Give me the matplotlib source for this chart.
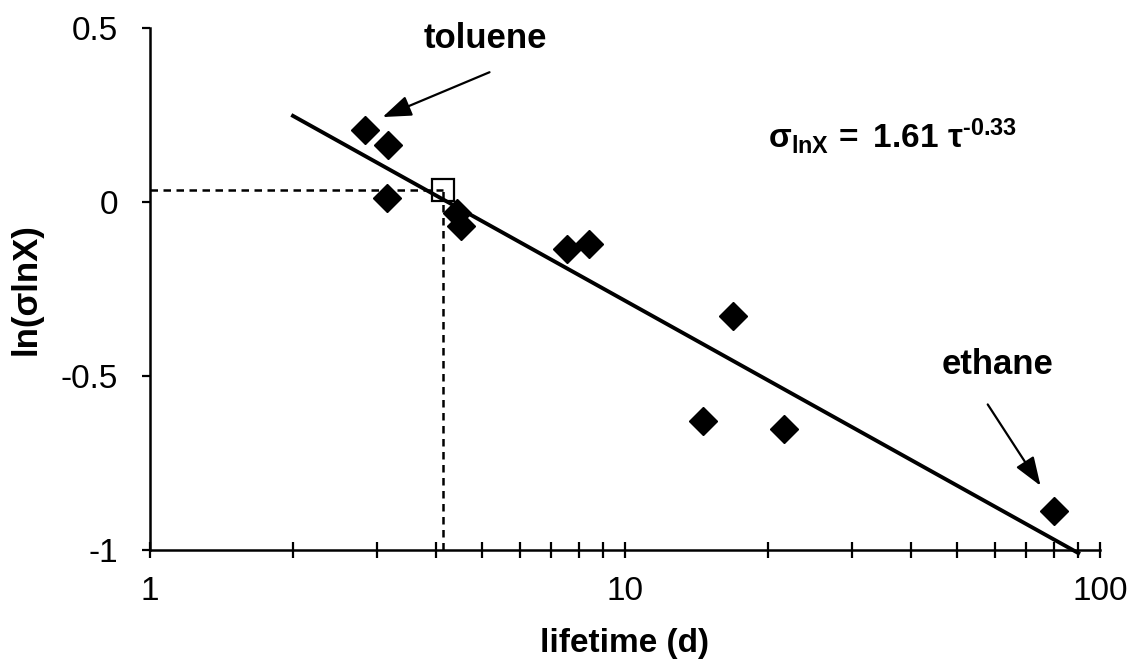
import numpy as np
import matplotlib
matplotlib.use("Agg")
import matplotlib.pyplot as plt
from matplotlib.ticker import FixedLocator, NullFormatter

plt.rcParams['font.family'] = ['Liberation Sans', 'DejaVu Sans']
plt.rcParams['mathtext.fontset'] = 'custom'
plt.rcParams['mathtext.rm'] = 'Liberation Sans'
plt.rcParams['mathtext.bf'] = 'Liberation Sans:bold'
plt.rcParams['mathtext.it'] = 'Liberation Sans:italic'

# data
lifetime = [2.84, 3.17, 3.15, 4.43, 4.52, 7.55, 8.40, 16.9, 14.6, 21.6, 80.0]
ln_sigma = [0.207, 0.164, 0.011, -0.032, -0.069, -0.135, -0.121, -0.328, -0.629, -0.652, -0.888]
highlight_x = 4.14
highlight_y = 0.034
fit_a = 1.61
fit_b = -0.33
fit_range = [2.0, 90.0]

fig = plt.figure(figsize=(11.33, 6.66), dpi=100)
ax = fig.add_axes([150/1133, 116/666, 950/1133, 522/666])

ax.set_xscale('log')
ax.set_xlim(1, 100)
ax.set_ylim(-1, 0.5)

# dashed guide lines to highlighted point
ax.plot([1, highlight_x], [highlight_y, highlight_y], color='black', lw=1.8,
        linestyle=(0, (3, 2.2)), clip_on=False, zorder=2)
ax.plot([highlight_x, highlight_x], [-1, highlight_y], color='black', lw=1.8,
        linestyle=(0, (3, 2.2)), clip_on=False, zorder=2)

# fit line
xf = np.geomspace(fit_range[0], fit_range[1], 200)
yf = np.log(fit_a) + fit_b * np.log(xf)
ax.plot(xf, yf, color='black', lw=2.8, clip_on=False, zorder=3)

# data points
ax.plot(lifetime, ln_sigma, linestyle='none', marker='D', markersize=14,
        color='black', zorder=4, clip_on=False)
ax.plot([highlight_x], [highlight_y], linestyle='none', marker='s', markersize=16,
        mfc='none', mec='black', mew=1.6, zorder=5)

# annotations
arrow_style = '-|>,head_length=0.55,head_width=0.2'
ax.text(5.07, 0.471, 'toluene', fontsize=25, fontweight='bold', ha='center', va='center')
ax.annotate('', xy=(3.05, 0.241), xytext=(5.25, 0.376),
            arrowprops=dict(arrowstyle=arrow_style, color='black', lw=1.6, mutation_scale=32))
ax.text(61.0, -0.468, 'ethane', fontsize=25, fontweight='bold', ha='center', va='center')
ax.annotate('', xy=(75.5, -0.822), xytext=(57.6, -0.575),
            arrowprops=dict(arrowstyle=arrow_style, color='black', lw=1.6, mutation_scale=32))
ax.text(20.0, 0.155, r'$\mathbf{σ_{lnX}\,=\ 1.61\ τ^{‐0.33}}$',
        fontsize=24, ha='left', va='baseline')

# axes styling
for s in ['top', 'right']:
    ax.spines[s].set_visible(False)
for s in ['left', 'bottom']:
    ax.spines[s].set_linewidth(1.8)

ax.xaxis.set_major_locator(FixedLocator([1, 10, 100]))
ax.xaxis.set_minor_locator(FixedLocator([2, 3, 4, 5, 6, 7, 8, 9, 20, 30, 40, 50, 60, 70, 80, 90]))
ax.xaxis.set_minor_formatter(NullFormatter())
ax.set_xticklabels(['1', '10', '100'])
ax.set_yticks([-1, -0.5, 0, 0.5])
ax.set_yticklabels(['-1', '-0.5', '0', '0.5'])

ax.tick_params(axis='x', which='both', direction='inout', length=11, width=1.6, labelsize=24, pad=13)
ax.tick_params(axis='y', which='major', direction='out', length=6, width=1.6, labelsize=24, pad=17)

ax.set_xlabel('lifetime (d)', fontsize=24, fontweight='bold')
ax.xaxis.set_label_coords(0.5, -0.15)
ax.set_ylabel('ln(σlnX)', fontsize=25, fontweight='bold')
ax.yaxis.set_label_coords(-0.113, 0.5)

fig.savefig('out.png', dpi=100)
